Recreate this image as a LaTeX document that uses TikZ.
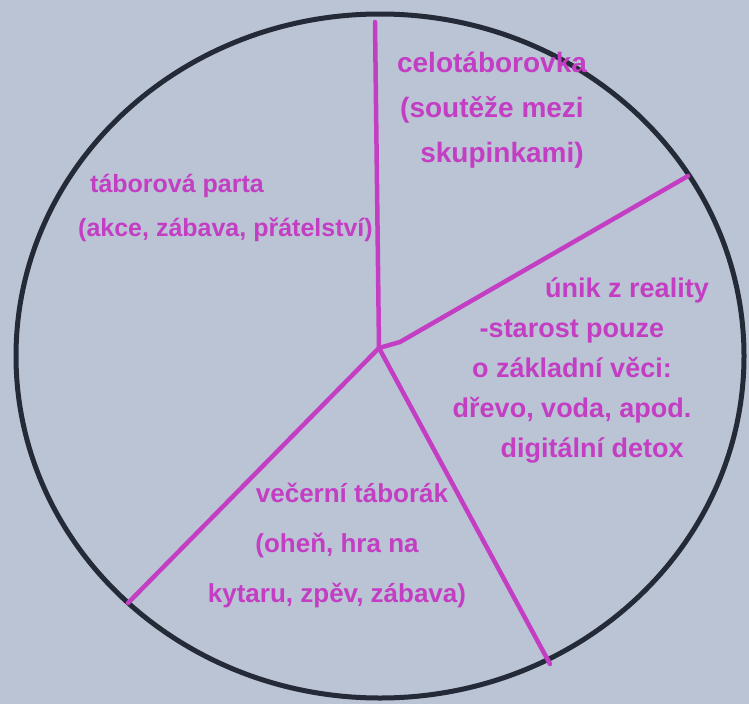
\documentclass[tikz,border=0pt]{standalone}
\usepackage{fontspec}
\setmainfont{Liberation Sans}
\definecolor{paper}{RGB}{186,196,212}
\definecolor{marker}{RGB}{196,62,196}
\definecolor{rim}{RGB}{36,42,56}

\begin{document}
\begin{tikzpicture}[x=1pt,y=-1pt,
pen/.style={marker,line width=4.5pt,line cap=round,line join=round},
note/.style={text=marker,font=\bfseries\fontsize{25}{44}\selectfont,align=center,inner sep=0pt}]
\fill[paper] (0,0) rectangle (749,704);
\useasboundingbox (0,0) rectangle (749,704);
\draw[rim,line width=5pt] (380,356) ellipse [x radius=364,y radius=342];
\coordinate (mid) at (379,348);
\coordinate (n) at (375,22);
\coordinate (ne) at (688,176);
\coordinate (se) at (550,664);
\coordinate (sw) at (128,603);
\draw[pen] (mid) -- (n);
\draw[pen] (mid) -- (400,342) -- (ne);
\draw[pen] (mid) -- (se);
\draw[pen] (mid) -- (sw);
\node[note,font=\bfseries\fontsize{28}{45}\selectfont] (contest) at (492,110) {celotáborovka\\(soutěže mezi\\\hspace{20pt}skupinkami)};
\node[note,align=left,anchor=west] (crew) at (78,208) {\hspace{12pt}táborová parta\\(akce, zábava, přátelství)};
\node[note,font=\bfseries\fontsize{27}{40}\selectfont] (escape) at (572,370) {\hspace{110pt}únik z reality\\-starost pouze\\o základní věci:\\dřevo, voda, apod.\\\hspace{40pt}digitální detox};
\node[note,font=\bfseries\fontsize{26}{50}\selectfont] (fire) at (337,545) {\hspace{30pt}večerní táborák\\(oheň, hra na\\kytaru, zpěv, zábava)};
\end{tikzpicture}
\end{document}
